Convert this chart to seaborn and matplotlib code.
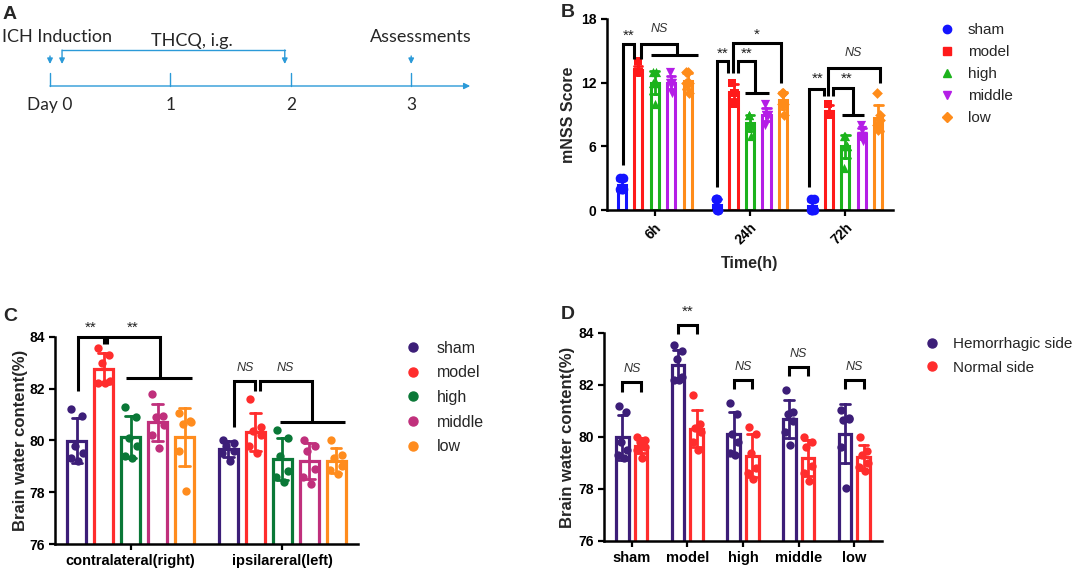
import numpy as np
import pandas as pd
import matplotlib
matplotlib.use("Agg")
import matplotlib.pyplot as plt
from matplotlib.lines import Line2D
import seaborn as sns

# ---------------- data ----------------
days = [0, 1, 2, 3]
day_labels = ["Day 0", "1", "2", "3"]
thcq_start_day = 0.1
thcq_end_day = 1.95

time_points = ["6h", "24h", "72h"]
treat_groups = ["sham", "model", "high", "middle", "low"]
mnss_sham = [[3, 2, 2, 2, 3, 2], [1, 0, 0, 1, 0, 1], [1, 0, 0, 0, 1, 0]]
mnss_model = [[13, 13, 14, 13, 13, 13], [12, 11, 11, 12, 11, 10], [10, 9, 9, 10, 9, 9]]
mnss_high = [[13, 12, 12, 12, 13, 10], [9, 8, 8, 9, 7, 8], [7, 6, 6, 4, 6, 7]]
mnss_middle = [[13, 12, 12, 12, 11, 12], [10, 9, 9, 8, 9, 9], [8, 7, 7, 7, 6.5, 7.5]]
mnss_low = [[13, 12, 12, 12, 11, 13], [11, 10, 11, 10, 9, 11], [11, 9, 8, 8, 8.5, 7.5]]

sides = ["contralateral(right)", "ipsilareral(left)"]
bwc_sham = [[81.2, 80.95, 79.8, 79.5, 79.3, 79.2], [80.0, 79.9, 79.8, 79.6, 79.5, 79.2]]
bwc_model = [[83.55, 83.3, 83.0, 82.3, 82.2, 82.2], [81.6, 80.5, 80.35, 80.2, 79.8, 79.5]]
bwc_high = [[81.3, 80.9, 80.1, 79.8, 79.4, 79.3], [80.4, 80.1, 79.4, 78.8, 78.6, 78.4]]
bwc_middle = [[81.8, 80.95, 80.9, 80.6, 80.2, 79.7], [80.0, 79.8, 79.6, 78.9, 78.6, 78.3]]
bwc_low = [[81.05, 80.75, 80.65, 80.7, 79.6, 78.05], [80.0, 79.45, 79.3, 79.0, 78.85, 78.7]]

side_names = ["Hemorrhagic side", "Normal side"]

sig_B = [["**", "NS"], ["**", "**", "*"], ["**", "**", "NS"]]
sig_C = [["**", "**"], ["NS", "NS"]]
sig_D = ["NS", "**", "NS", "NS", "NS"]

# ---------------- styles ----------------
sns.set_theme(style="ticks")
plt.rcParams["font.family"] = ["Liberation Sans", "DejaVu Sans"]
fontA = ["Lato", "DejaVu Sans"]

pal_B = {"sham": "#1414ff", "model": "#ff1a1a", "high": "#1cb31c",
         "middle": "#b41ee6", "low": "#ff8c1a"}
mark_B = {"sham": "o", "model": "s", "high": "^", "middle": "v", "low": "D"}
msize_B = {"sham": 48, "model": 40, "high": 44, "middle": 44, "low": 30}
pal_C = {"sham": "#3c1e78", "model": "#ff2d2d", "high": "#0a7837",
         "middle": "#c0307c", "low": "#ff8c1e"}
pal_D = {"Hemorrhagic side": "#3c1e78", "Normal side": "#ff2d2d"}
blueA = "#2b9ad8"

W_B, W_C, W_D = 0.865, 0.89, 0.67
jit6 = [-0.2, 0.2, -0.08, 0.22, -0.22, 0.06]
jitB = [-0.08, 0.08, 0.0, -0.08, 0.08, 0.0]

FIG_W, FIG_H = 1072, 575
fig = plt.figure(figsize=(FIG_W / 100, FIG_H / 100), dpi=100)


def fx(px):
    return px / FIG_W


def fy(py):
    return 1 - py / FIG_H


def add_ax(l, t, r, b):
    return fig.add_axes([fx(l), fy(b), (r - l) / FIG_W, (b - t) / FIG_H])


def slot_x(ci, slot, n, W):
    return ci + (slot - (n - 1) / 2) * W / n


def bracket(ax, ci, slots, ys, n, W):
    ax.plot([slot_x(ci, s, n, W) for s in slots], ys, color="black", lw=2.2,
            clip_on=False, solid_joinstyle="miter", solid_capstyle="butt", zorder=4)


def sig_text(ax, ci, slot, y, txt, n, W):
    if txt == "NS":
        ax.text(slot_x(ci, slot, n, W), y, txt, ha="center", va="center",
                fontsize=9, style="italic", color="#333333", clip_on=False)
    else:
        ax.text(slot_x(ci, slot, n, W), y, txt, ha="center", va="center",
                fontsize=11, color="#222222", clip_on=False)


def style_axis(ax, labelsize=10):
    for s in ["top", "right"]:
        ax.spines[s].set_visible(False)
    for s in ["left", "bottom"]:
        ax.spines[s].set_linewidth(1.8)
        ax.spines[s].set_color("black")
    ax.tick_params(axis="both", width=1.6, length=4, color="black",
                   labelsize=labelsize, labelcolor="black", direction="out")


def bold_ticks(ax):
    for lab in ax.get_xticklabels() + ax.get_yticklabels():
        lab.set_fontweight("bold")


# ---------------- panel A ----------------
axA = add_ax(0, 0, 480, 130)
axA.set_xlim(-50 / 120.4, 430 / 120.4)
axA.set_ylim(130, 0)
axA.axis("off")
y_line = 86
axA.annotate("", xy=(3.49, y_line), xytext=(days[0], y_line),
             arrowprops=dict(arrowstyle="-|>", color=blueA, lw=1.0,
                             mutation_scale=9, shrinkA=0, shrinkB=0))
for d, lab in zip(days, day_labels):
    axA.plot([d, d], [73, y_line], color=blueA, lw=1.0)
    axA.text(d, 105, lab, ha="center", va="center", fontsize=12.5, family=fontA)


def down_arrow(x, y0, y1):
    axA.annotate("", xy=(x, y1), xytext=(x, y0),
                 arrowprops=dict(arrowstyle="-|>", color=blueA, lw=1.0,
                                 mutation_scale=8, shrinkA=0, shrinkB=0))


down_arrow(days[0], 56, 64)
down_arrow(days[3], 56, 64)
axA.plot([thcq_start_day, thcq_end_day], [50, 50], color=blueA, lw=1.0)
down_arrow(thcq_start_day, 50, 64)
down_arrow(thcq_end_day, 50, 64)
axA.text(-48 / 120.4, 37, "ICH Induction", ha="left", va="center", fontsize=13, family=fontA)
axA.text((thcq_start_day + thcq_end_day) / 2 + 0.15, 41, "THCQ, i.g.", ha="center",
         va="center", fontsize=13, family=fontA)
axA.text(days[3] + 0.08, 37, "Assessments", ha="center", va="center", fontsize=13, family=fontA)

# ---------------- panel B ----------------
mnss = {"sham": mnss_sham, "model": mnss_model, "high": mnss_high,
        "middle": mnss_middle, "low": mnss_low}
rows = []
for g in treat_groups:
    for ti, t in enumerate(time_points):
        for k, v in enumerate(mnss[g][ti]):
            rows.append((t, g, v, ti, treat_groups.index(g), k))
dfB = pd.DataFrame(rows, columns=["time", "group", "score", "ti", "hi", "k"])

axB = add_ax(607, 19, 893, 210)
sns.barplot(data=dfB, x="time", y="score", hue="group", order=time_points,
            hue_order=treat_groups, palette=pal_B, saturation=1, fill=False,
            width=W_B, gap=0.5, errorbar="sd", capsize=0.45,
            err_kws={"linewidth": 2.0}, linewidth=2.2, legend=False, ax=axB)
for g in treat_groups:
    sub = dfB[dfB.group == g]
    xs = [slot_x(r.ti, r.hi, 5, W_B) + jitB[r.k] * W_B / 5 for r in sub.itertuples()]
    axB.scatter(xs, sub.score, marker=mark_B[g], s=msize_B[g], color=pal_B[g],
                linewidths=0, zorder=3, clip_on=False)
axB.set_xlim(-0.5, 2.5)
axB.set_ylim(0, 18)
axB.set_yticks([0, 6, 12, 18])
style_axis(axB, 10)
axB.set_xticks(range(len(time_points)))
axB.set_xticklabels(time_points, rotation=45, ha="right", va="top", rotation_mode="anchor")
axB.set_xlabel("Time(h)", fontsize=11.5, fontweight="bold", labelpad=6)
axB.set_ylabel("mNSS Score", fontsize=11.5, fontweight="bold", labelpad=4)
bold_ticks(axB)

# brackets B
bracket(axB, 0, [0.06, 0.06, 0.73, 0.73], [4.2, 15.6, 15.6, 14.2], 5, W_B)
bracket(axB, 0, [1.15, 1.15, 3.33, 3.33], [14.2, 15.6, 15.6, 14.6], 5, W_B)
bracket(axB, 0, [1.76, 4.6], [14.6, 14.6], 5, W_B)
sig_text(axB, 0, 0.4, 16.4, sig_B[0][0], 5, W_B)
sig_text(axB, 0, 2.3, 17.1, sig_B[0][1], 5, W_B)

bracket(axB, 1, [0, 0, 0.67, 0.67], [2.2, 14.0, 14.0, 12.9], 5, W_B)
bracket(axB, 1, [1.27, 1.27, 2.3, 2.3], [12.9, 14.0, 14.0, 11.0], 5, W_B)
bracket(axB, 1, [1.7, 3.15], [11.0, 11.0], 5, W_B)
bracket(axB, 1, [0.97, 0.97, 3.88, 3.88], [12.9, 15.7, 15.7, 12.0], 5, W_B)
sig_text(axB, 1, 0.36, 14.7, sig_B[1][0], 5, W_B)
sig_text(axB, 1, 1.82, 14.7, sig_B[1][1], 5, W_B)
sig_text(axB, 1, 2.42, 16.5, sig_B[1][2], 5, W_B)

bracket(axB, 2, [-0.18, -0.18, 0.73, 0.73], [2.2, 11.4, 11.4, 10.7], 5, W_B)
bracket(axB, 2, [1.27, 1.27, 2.48, 2.48], [10.7, 11.5, 11.5, 8.96], 5, W_B)
bracket(axB, 2, [1.82, 3.15], [8.96, 8.96], 5, W_B)
bracket(axB, 2, [0.97, 0.97, 4.12, 4.12], [10.7, 13.4, 13.4, 12.0], 5, W_B)
sig_text(axB, 2, 0.3, 12.35, sig_B[2][0], 5, W_B)
sig_text(axB, 2, 2.06, 12.35, sig_B[2][1], 5, W_B)
sig_text(axB, 2, 2.48, 14.8, sig_B[2][2], 5, W_B)

handlesB = [Line2D([], [], ls="", marker=mark_B[g], color=pal_B[g],
                   markersize=6 if mark_B[g] != "D" else 5) for g in treat_groups]
fig.legend(handlesB, treat_groups, loc="upper left", bbox_to_anchor=(fx(939.4), fy(23.2)),
           frameon=False, fontsize=11, handlelength=1.0, handletextpad=0.87,
           labelspacing=0.52, borderpad=0, borderaxespad=0)

# ---------------- panel C ----------------
bwc = {"sham": bwc_sham, "model": bwc_model, "high": bwc_high,
       "middle": bwc_middle, "low": bwc_low}
rows = []
for g in treat_groups:
    for si, s in enumerate(sides):
        for k, v in enumerate(bwc[g][si]):
            rows.append((s, g, side_names[si], v, si, treat_groups.index(g), k))
dfC = pd.DataFrame(rows, columns=["side", "group", "side_name", "water", "si", "gi", "k"])

axC = add_ax(55, 336.7, 358, 544)
sns.barplot(data=dfC, x="side", y="water", hue="group", order=sides,
            hue_order=treat_groups, palette=pal_C, saturation=1, fill=False,
            width=W_C, gap=0.3, errorbar="sd", capsize=0.35,
            err_kws={"linewidth": 2.0}, linewidth=2.3, legend=False, ax=axC)
for g in treat_groups:
    sub = dfC[dfC.group == g]
    xs = [slot_x(r.si, r.gi, 5, W_C) + jit6[r.k] * W_C / 5 for r in sub.itertuples()]
    axC.scatter(xs, sub.water, marker="o", s=36, color=pal_C[g], linewidths=0,
                zorder=3, clip_on=False)
axC.set_xlim(-0.5, 1.5)
axC.set_ylim(76, 84)
axC.set_yticks([76, 78, 80, 82, 84])
style_axis(axC, 10.5)
axC.tick_params(axis="y", labelsize=10)
axC.set_xticks(range(len(sides)))
axC.set_xticklabels(sides)
axC.set_xlabel("")
axC.set_ylabel("Brain water content(%)", fontsize=12, fontweight="bold", labelpad=1)
bold_ticks(axC)

bracket(axC, 0, [0.04, 0.04, 1.0, 1.0], [81.9, 84.0, 84.0, 83.7], 5, W_C)
bracket(axC, 0, [1.11, 1.11, 3.07, 3.07], [83.7, 84.0, 84.0, 82.4], 5, W_C)
bracket(axC, 0, [1.81, 4.26], [82.4, 82.4], 5, W_C)
sig_text(axC, 0, 0.52, 84.35, sig_C[0][0], 5, W_C)
sig_text(axC, 0, 2.07, 84.35, sig_C[0][1], 5, W_C)
bracket(axC, 1, [0.22, 0.22, 1.0, 1.0], [80.5, 82.3, 82.3, 81.9], 5, W_C)
bracket(axC, 1, [1.19, 1.19, 3.11, 3.11], [81.9, 82.3, 82.3, 80.7], 5, W_C)
bracket(axC, 1, [1.93, 4.33], [80.7, 80.7], 5, W_C)
sig_text(axC, 1, 0.63, 82.8, sig_C[1][0], 5, W_C)
sig_text(axC, 1, 2.11, 82.8, sig_C[1][1], 5, W_C)

handlesC = [Line2D([], [], ls="", marker="o", color=pal_C[g], markersize=6.5) for g in treat_groups]
fig.legend(handlesC, treat_groups, loc="upper left", bbox_to_anchor=(fx(405), fy(340.8)),
           frameon=False, fontsize=11.5, handlelength=1.0, handletextpad=1.0,
           labelspacing=0.6, borderpad=0, borderaxespad=0)

# ---------------- panel D ----------------
axD = add_ax(604, 333, 882, 541)
sns.barplot(data=dfC, x="group", y="water", hue="side_name", order=treat_groups,
            hue_order=side_names, palette=pal_D, saturation=1, fill=False,
            width=W_D, gap=0.32, errorbar="sd", capsize=0.35,
            err_kws={"linewidth": 2.0}, linewidth=2.3, legend=False, ax=axD)
for si, sname in enumerate(side_names):
    sub = dfC[dfC.side_name == sname]
    xs = [slot_x(r.gi, r.si, 2, W_D) + jit6[r.k] * W_D / 2 for r in sub.itertuples()]
    axD.scatter(xs, sub.water, marker="o", s=36, color=pal_D[sname], linewidths=0,
                zorder=3, clip_on=False)
axD.set_xlim(-0.5, 4.5)
axD.set_ylim(76, 84)
axD.set_yticks([76, 78, 80, 82, 84])
style_axis(axD, 10.5)
axD.tick_params(axis="y", labelsize=10)
axD.set_xticks(range(len(treat_groups)))
axD.set_xticklabels(treat_groups)
axD.set_xlabel("")
axD.set_ylabel("Brain water content(%)", fontsize=12, fontweight="bold", labelpad=2)
bold_ticks(axD)

tops_D = [82.1, 84.3, 82.2, 82.7, 82.2]
for gi in range(len(treat_groups)):
    top = tops_D[gi]
    bracket(axD, gi, [0, 0, 1, 1], [top - 0.35, top, top, top - 0.35], 2, W_D)
    sig_text(axD, gi, 0.5, top + 0.5, sig_D[gi], 2, W_D)

handlesD = [Line2D([], [], ls="", marker="o", color=pal_D[s], markersize=6.5) for s in side_names]
fig.legend(handlesD, side_names, loc="upper left", bbox_to_anchor=(fx(924.4), fy(337.2)),
           frameon=False, fontsize=11, handlelength=1.0, handletextpad=0.87,
           labelspacing=0.61, borderpad=0, borderaxespad=0)

# ---------------- panel letters ----------------
for lab, (px, py) in {"A": (3, 6), "B": (561, 4), "C": (3, 308), "D": (561, 306)}.items():
    fig.text(fx(px), fy(py), lab, ha="left", va="top", fontsize=14, fontweight="bold")

fig.savefig("out.png", dpi=100)
